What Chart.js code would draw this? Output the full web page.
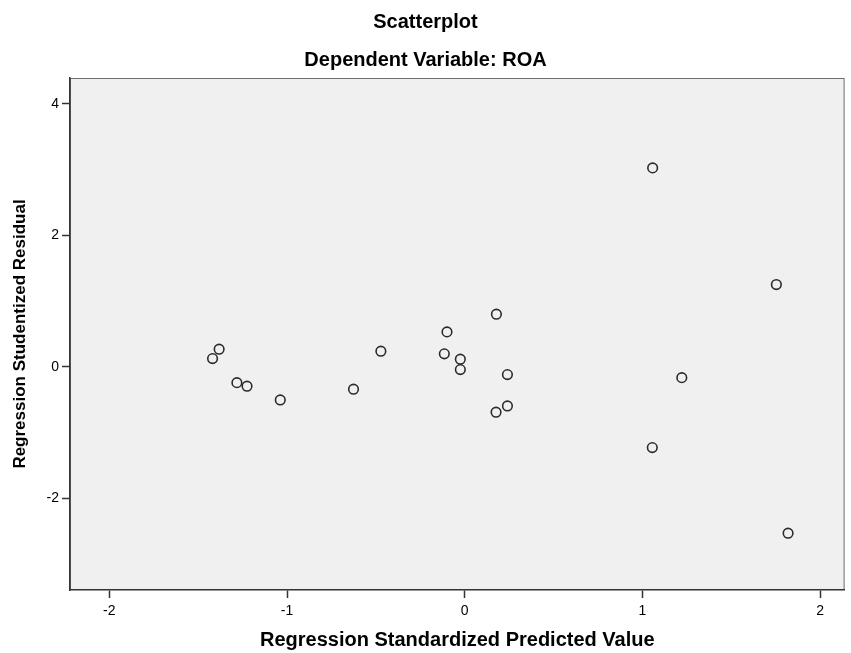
<!DOCTYPE html>
<html>
<head>
<meta charset="utf-8">
<script src="https://cdn.jsdelivr.net/npm/chart.js@4.4.1/dist/chart.umd.min.js"></script>
<style>
  html, body { margin: 0; padding: 0; background: #ffffff; }
  #scatter { display: block; }
</style>
</head>
<body>
<canvas id="scatter" width="851" height="653"></canvas>
<script>
// predicted (x) and studentized residual (y)
const predicted = [1.057, 1.753, 0.178, -0.100, -1.382, -1.419, -0.472, -0.115, -0.025, -0.025,
                   0.240, 1.221, -1.282, -1.225, -0.626, -1.038, 0.240, 0.176, 1.055, 1.819];
const residual  = [3.024, 1.251, 0.801, 0.532, 0.269, 0.126, 0.239, 0.198, 0.117, -0.041,
                   -0.117, -0.163, -0.239, -0.293, -0.339, -0.502, -0.593, -0.688, -1.226, -2.527];

const xTicks = [-2, -1, 0, 1, 2];
const yTicks = [-2, 0, 2, 4];

const chartTitle = 'Scatterplot';
const chartSubtitle = 'Dependent Variable: ROA';
const xTitle = 'Regression Standardized Predicted Value';
const yTitle = 'Regression Studentized Residual';

const FONT = 'Arial, "Liberation Sans", sans-serif';

// grey plot background + frame, like SPSS output
const plotFrame = {
  id: 'plotFrame',
  beforeDraw(chart) {
    const { ctx, chartArea: a } = chart;
    ctx.save();
    ctx.fillStyle = '#f0f0f0';
    ctx.fillRect(a.left, a.top, a.right - a.left, a.bottom - a.top);
    ctx.strokeStyle = '#6e6e6e';
    ctx.lineWidth = 1;
    ctx.strokeRect(a.left + 0.5, a.top + 0.5, a.right - a.left - 1, a.bottom - a.top - 1);
    ctx.restore();
  }
};

const points = predicted.map((x, i) => ({ x: x, y: residual[i] }));

const ctx = document.getElementById('scatter').getContext('2d');
new Chart(ctx, {
  type: 'scatter',
  data: {
    datasets: [{
      data: points,
      pointStyle: 'circle',
      pointRadius: 4.8,
      pointBorderWidth: 1.6,
      pointBorderColor: '#2b2b2b',
      pointBackgroundColor: 'rgba(0,0,0,0)'
    }]
  },
  options: {
    responsive: false,
    animation: false,
    layout: { padding: { top: 0, right: 0, bottom: 0, left: 0 } },
    plugins: {
      legend: { display: false },
      tooltip: { enabled: false },
      title: {
        display: true,
        text: chartTitle,
        color: '#000',
        font: { family: FONT, size: 20, weight: 'bold' },
        padding: { top: 10, bottom: 14 }
      },
      subtitle: {
        display: true,
        text: chartSubtitle,
        color: '#000',
        font: { family: FONT, size: 20, weight: 'bold' },
        padding: { top: 0, bottom: 6 }
      }
    },
    scales: {
      x: {
        type: 'linear',
        min: -2.221,
        max: 2.137,
        afterBuildTicks: s => { s.ticks = xTicks.map(v => ({ value: v })); },
        afterFit: s => { s.height = 63; },
        border: { display: true, color: '#333', width: 1.5 },
        grid: { drawOnChartArea: false, drawTicks: true, tickLength: 8, color: '#333', tickWidth: 1.5 },
        ticks: { color: '#000', padding: 5, font: { family: FONT, size: 14 } },
        title: {
          display: true,
          text: xTitle,
          color: '#000',
          font: { family: FONT, size: 20, weight: 'bold' },
          padding: { top: 0, bottom: 1 }
        }
      },
      y: {
        type: 'linear',
        min: -3.39,
        max: 4.39,
        afterBuildTicks: s => { s.ticks = yTicks.map(v => ({ value: v })); },
        afterFit: s => { s.width = 70; },
        border: { display: true, color: '#333', width: 1.5 },
        grid: { drawOnChartArea: false, drawTicks: true, tickLength: 8, color: '#333', tickWidth: 1.5 },
        ticks: { color: '#000', padding: 3, font: { family: FONT, size: 14 } },
        title: {
          display: true,
          text: yTitle,
          color: '#000',
          font: { family: FONT, size: 17, weight: 'bold' },
          padding: { top: 10, bottom: 0 }
        }
      }
    }
  },
  plugins: [plotFrame]
});
</script>
</body>
</html>
